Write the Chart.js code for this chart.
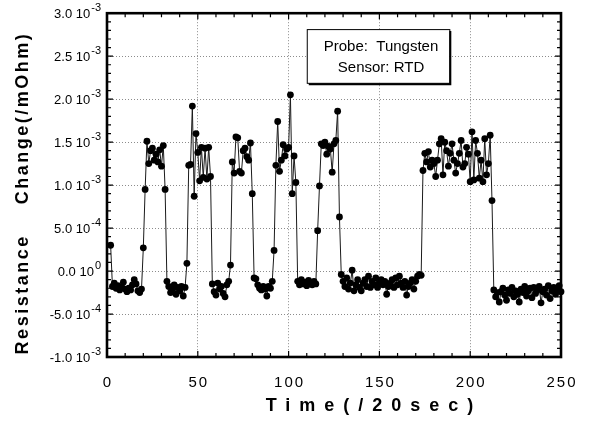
<!DOCTYPE html>
<html><head><meta charset="utf-8">
<script src="https://cdn.jsdelivr.net/npm/chart.js@4/dist/chart.umd.min.js"></script>
<style>html,body{margin:0;padding:0;background:#fff;}canvas{display:block;}</style>
</head><body>
<canvas id="c" width="590" height="421" style="width:590px;height:421px"></canvas>
<script>
// ---- data (resistance change in units of 10^-3 /mOhm, one sample per time unit of 20 s) ----
const startTime = 2;
const spike0    = [0.30];
const baseline1 = [-0.18,-0.14,-0.20,-0.17,-0.22,-0.19,-0.13,-0.21,-0.24,-0.20,-0.22,-0.16,-0.10,-0.15,-0.23,-0.25,-0.21];
const pulse1    = [0.27,0.95,1.51,1.25,1.40,1.43,1.29,1.36,1.27,1.41,1.22,1.46,0.95];
const baseline2 = [-0.12,-0.18,-0.25,-0.21,-0.16,-0.27,-0.19,-0.23,-0.18,-0.29,-0.19];
const pulse2    = [0.09,1.23,1.24,1.92,0.87,1.60,1.38,1.05,1.44,1.09,1.43,1.07,1.44,1.10];
const baseline3 = [-0.15,-0.24,-0.28,-0.14,-0.21,-0.18,-0.26,-0.30,-0.16,-0.12];
const pulse3    = [0.07,1.27,1.14,1.56,1.55,1.16,1.14,1.40,1.43,1.33,1.29,1.49,0.90];
const baseline4 = [-0.08,-0.09,-0.16,-0.20,-0.22,-0.18,-0.21,-0.29,-0.18,-0.20,-0.12];
const pulse4    = [0.24,1.23,1.74,1.16,1.29,1.47,1.34,1.42,1.44,2.05,0.90,1.34,1.03];
const baseline5 = [-0.12,-0.16,-0.10,-0.15,-0.13,-0.17,-0.11,-0.14,-0.16,-0.12,-0.15];
const pulse5    = [0.47,0.99,1.48,1.46,1.50,1.36,1.45,1.42,1.15,1.48,1.52,1.86,0.63];
const baseline6 = [-0.04,-0.12,-0.18,-0.08,-0.21,-0.14,0.01,-0.23,-0.16,-0.10,
                   -0.19,-0.23,-0.14,-0.10,-0.18,-0.06,-0.19,-0.12,-0.16,-0.08,
                   -0.19,-0.14,-0.10,-0.16,-0.12,-0.27,-0.18,-0.14,-0.10,-0.19,
                   -0.08,-0.16,-0.06,-0.14,-0.19,-0.12,-0.28,-0.18,-0.14,-0.10,
                   -0.21,-0.12,-0.06,-0.04,-0.05];
const pulse6    = [1.17,1.37,1.27,1.39,1.21,1.29,1.25,1.10,1.29,1.48,1.54,1.12,1.50,1.40,1.22,1.37,1.48,1.29,1.14,1.25,
                   1.37,1.52,1.21,1.25,1.44,1.36,1.04,1.62,1.06,1.52,1.37,1.08,1.29,1.04,1.54,1.12,1.25,1.58,0.82];
const baseline7 = [-0.22,-0.30,-0.25,-0.36,-0.24,-0.20,-0.28,-0.34,-0.22,-0.26,-0.19,-0.30,-0.23,-0.27,-0.36,-0.21,-0.25,-0.18,-0.29,
                   -0.23,-0.20,-0.31,-0.19,-0.26,-0.22,-0.18,-0.37,-0.24,-0.21,-0.28,-0.17,-0.32,-0.23,-0.19,-0.27,-0.21,-0.17,-0.24];

const yTickValues    = [-1, -0.5, 0, 0.5, 1, 1.5, 2, 2.5, 3];
const yTickMantissas = ['-1.0 10', '-5.0 10', '0.0 10', '5.0 10', '1.0 10', '1.5 10', '2.0 10', '2.5 10', '3.0 10'];
const yTickExponents = ['-3', '-4', '0', '-4', '-3', '-3', '-3', '-3', '-3'];
const xTickValues = [0, 50, 100, 150, 200, 250];
const xTitle = 'Time(/20sec)';
const yTitle = 'Resistance    Change(/mOhm)';
const noteLines = ['Probe:  Tungsten', 'Sensor: RTD'];

// ---- build ----
const segments = [spike0, baseline1, pulse1, baseline2, pulse2, baseline3, pulse3, baseline4, pulse4, baseline5, pulse5, baseline6, pulse6, baseline7];
const values = segments.flat();
const points = values.map((v, i) => ({x: startTime + i, y: v}));
const yIndex = v => yTickValues.findIndex(t => Math.abs(t - v) < 1e-9);

const FONT = "'Liberation Sans', Arial, Helvetica, sans-serif";

const textPatch = {
  id: 'textPatch',
  beforeDraw(chart) {
    const xs = chart.scales.x, ys = chart.scales.y;
    if (xs.__patched) return;
    xs.__patched = true;
    const proto = Object.getPrototypeOf(xs);
    xs.drawTitle = function () { const c = this.ctx; c.save(); c.letterSpacing = '9px'; c.translate(40, 0); proto.drawTitle.call(this); c.restore(); };
    xs.drawLabels = function (a) { const c = this.ctx; c.save(); c.letterSpacing = '2px'; c.translate(1, 3); proto.drawLabels.call(this, a); c.restore(); };
    ys.drawTitle = function () { const c = this.ctx; c.save(); c.letterSpacing = '2.5px'; c.translate(0, 8); proto.drawTitle.call(this); c.restore(); };
    // y labels: mantissa "x.x 10" with a raised exponent
    ys.drawLabels = function () {
      const c = this.ctx;
      const xr = this.right - 6;
      c.save();
      c.fillStyle = '#000';
      c.textAlign = 'right';
      c.textBaseline = 'middle';
      this.ticks.forEach(t => {
        const i = yIndex(t.value);
        if (i < 0) return;
        const py = this.getPixelForValue(t.value);
        c.font = '11px ' + FONT;
        const ew = c.measureText(yTickExponents[i]).width;
        c.fillText(yTickExponents[i], xr, py - 5);
        c.font = '13px ' + FONT;
        c.fillText(yTickMantissas[i], xr - ew - 1, py + 1);
      });
      c.restore();
    };
  }
};

const frame = {
  id: 'frame',
  afterDraw(chart) {
    const {ctx, chartArea: {left, right, top, bottom}, scales: {x, y}} = chart;
    ctx.save();
    ctx.strokeStyle = '#000';
    ctx.lineWidth = 1.2;
    ctx.beginPath();
    for (let k = 0; k <= 25; k++) {
      const v = k * 10, px = x.getPixelForValue(v), len = (k % 5 === 0) ? 6 : 4;
      ctx.moveTo(px, bottom); ctx.lineTo(px, bottom - len);
      ctx.moveTo(px, top); ctx.lineTo(px, top + len);
    }
    for (let k = 0; k <= 40; k++) {
      const v = -1 + k * 0.1, py = y.getPixelForValue(v), len = (k % 5 === 0) ? 6 : 4;
      ctx.moveTo(left, py); ctx.lineTo(left + len, py);
      ctx.moveTo(right, py); ctx.lineTo(right - len, py);
    }
    ctx.stroke();
    ctx.lineWidth = 2.6;
    ctx.strokeRect(left, top, right - left, bottom - top);

    // note box
    const bl = x.getPixelForValue(110), br = x.getPixelForValue(188.5);
    const bt = y.getPixelForValue(2.815), bb = y.getPixelForValue(2.19);
    ctx.fillStyle = '#fff';
    ctx.fillRect(bl, bt, br - bl, bb - bt);
    ctx.lineWidth = 1;
    ctx.strokeRect(bl + 0.5, bt + 0.5, br - bl, bb - bt);
    ctx.lineWidth = 2;
    ctx.beginPath();
    ctx.moveTo(br + 1, bt + 2); ctx.lineTo(br + 1, bb + 1.5); ctx.lineTo(bl + 2, bb + 1.5);
    ctx.stroke();
    ctx.fillStyle = '#000';
    ctx.font = '15px ' + FONT;
    ctx.textAlign = 'center';
    ctx.textBaseline = 'middle';
    const cx = (bl + br) / 2 + 3;
    ctx.fillText(noteLines[0], cx, bt + 18);
    ctx.fillText(noteLines[1], cx, bt + 39);
    ctx.restore();
  }
};

new Chart(document.getElementById('c'), {
  type: 'line',
  data: {
    datasets: [{
      data: points,
      borderColor: '#1a1a1a',
      borderWidth: 1,
      pointRadius: 3.4,
      pointBackgroundColor: '#000',
      pointBorderWidth: 0,
      tension: 0,
      clip: 8
    }]
  },
  options: {
    responsive: false,
    animation: false,
    devicePixelRatio: 1,
    layout: {padding: {top: 12, right: 29, left: 0, bottom: 0}},
    plugins: {legend: {display: false}, tooltip: {enabled: false}},
    scales: {
      x: {
        type: 'linear', position: 'bottom', min: 0, max: 250,
        afterFit: s => { s.height = 64; },
        afterBuildTicks: s => { s.ticks = xTickValues.map(v => ({value: v})); },
        ticks: {padding: 14, color: '#000', font: {family: FONT, size: 15}, maxRotation: 0,
                callback: v => String(v)},
        grid: {color: '#8c8c8c', lineWidth: 1, drawTicks: false},
        border: {display: false, dash: [1, 2]},
        title: {display: true, text: xTitle, color: '#000',
                font: {family: FONT, size: 18, weight: 'bold'}, padding: {top: 0, bottom: 4}}
      },
      y: {
        type: 'linear', min: -1, max: 3,
        afterFit: s => { s.width = 107; },
        afterBuildTicks: s => { s.ticks = yTickValues.map(v => ({value: v})); },
        ticks: {padding: 6, color: '#000', font: {family: FONT, size: 12},
                callback: v => { const i = yIndex(v); return yTickMantissas[i] + ' ' + yTickExponents[i]; }},
        grid: {color: '#8c8c8c', lineWidth: 1, drawTicks: false},
        border: {display: false, dash: [1, 2]},
        title: {display: true, text: yTitle, color: '#000',
                font: {family: FONT, size: 18, weight: 'bold'}, padding: {top: 12, bottom: 0}}
      }
    }
  },
  plugins: [textPatch, frame]
});
</script>
</body></html>
